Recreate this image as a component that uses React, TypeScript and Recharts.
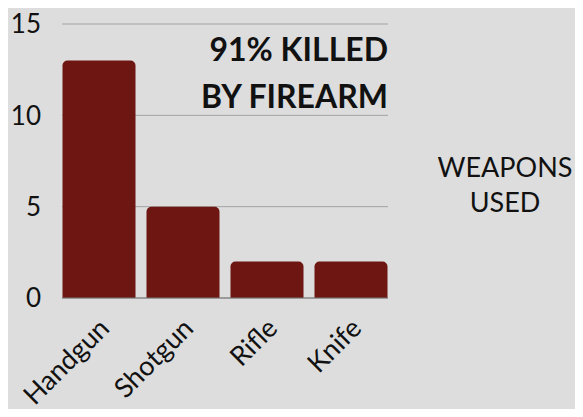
import React from 'react';
import { BarChart, Bar, XAxis, YAxis, CartesianGrid } from 'recharts';

const weapons = ['Handgun', 'Shotgun', 'Rifle', 'Knife'];
const counts = [13, 5, 2, 2];
const yTicks = [0, 5, 10, 15];

const data = weapons.map((weapon, i) => ({ weapon, count: counts[i] }));

const FONT = 'Lato, "Open Sans", sans-serif';

const CategoryTick = (props: any) => {
  const { x, y, payload } = props;
  return (
    <g transform={`translate(${x + 12},${y + 24})`}>
      <text
        textAnchor="end"
        transform="rotate(-45)"
        fontSize={27}
        fontFamily={FONT}
        fill="#111"
      >
        {payload.value}
      </text>
    </g>
  );
};

export default function App() {
  return (
    <div style={{ position: 'relative', width: 583, height: 417, background: '#dddddd', margin: -8 }}>
      <BarChart
        width={583}
        height={417}
        data={data}
        margin={{ top: 24, right: 195, left: 0, bottom: 0 }}
        barCategoryGap={5.5}
      >
        <CartesianGrid vertical={false} stroke="#a3a3a3" />
        <XAxis
          dataKey="weapon"
          interval={0}
          height={119}
          padding={{ left: -5, right: -5 }}
          tick={<CategoryTick />}
          tickLine={false}
          axisLine={{ stroke: '#777' }}
        />
        <YAxis
          width={62}
          domain={[0, 15]}
          ticks={yTicks}
          axisLine={false}
          tickLine={false}
          tickSize={0}
          tickMargin={21}
          tick={{ fontSize: 26, fill: '#111', fontFamily: FONT }}
        />
        <Bar dataKey="count" fill="#6e1612" radius={[5, 5, 0, 0]} isAnimationActive={false} />
      </BarChart>
      <div
        style={{
          position: 'absolute',
          right: 195,
          top: 25,
          textAlign: 'right',
          fontFamily: FONT,
          fontWeight: 700,
          fontSize: 32,
          lineHeight: '47px',
          color: '#111',
        }}
      >
        91% KILLED
        <br />
        BY FIREARM
      </div>
      <div
        style={{
          position: 'absolute',
          left: 430,
          width: 150,
          top: 149,
          textAlign: 'center',
          fontFamily: FONT,
          fontSize: 27,
          lineHeight: '35px',
          color: '#111',
        }}
      >
        WEAPONS
        <br />
        USED
      </div>
    </div>
  );
}
